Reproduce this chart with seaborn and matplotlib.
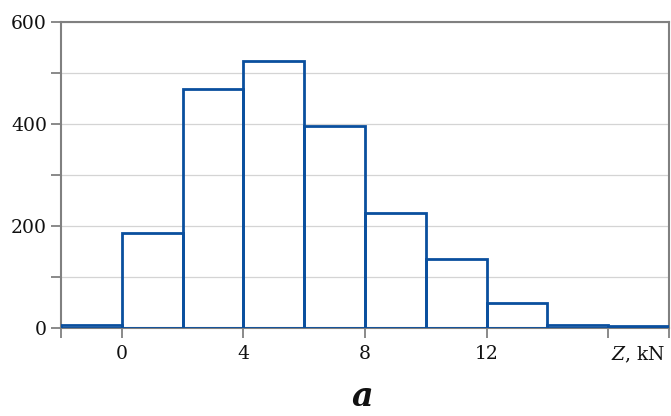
import numpy as np
import pandas as pd
import matplotlib
matplotlib.use("Agg")
import matplotlib.pyplot as plt
import matplotlib.transforms as mtransforms
import seaborn as sns

# Data
bin_edges = [-2, 0, 2, 4, 6, 8, 10, 12, 14, 16, 18]
counts = [5, 187, 469, 524, 396, 225, 136, 49, 6, 4]
y_ticks = [0, 100, 200, 300, 400, 500, 600]
y_tick_labels = ["0", "", "200", "", "400", "", "600"]
x_ticks = [-2, 0, 4, 8, 12, 16, 18]
x_tick_labels = ["", "0", "4", "8", "12", "", ""]

centers = [(a + b) / 2 for a, b in zip(bin_edges[:-1], bin_edges[1:])]
df = pd.DataFrame({"Z": centers, "n": counts})

sns.set_theme(style="white")
plt.rcParams["font.family"] = ["DejaVu Serif"]
plt.rcParams["mathtext.fontset"] = "dejavuserif"

fig = plt.figure(figsize=(6.71, 4.16), dpi=100)
ax = fig.add_axes([61 / 671, 1 - 328 / 416, (669 - 61) / 671, (328 - 22) / 416])

blue = "#0a4f9e"
grey = "#808080"

ax.set_axisbelow(True)
ax.grid(axis="y", color="#d4d4d4", linewidth=0.9)
ax.grid(axis="x", visible=False)

sns.histplot(data=df, x="Z", weights="n", bins=bin_edges, fill=False,
             element="bars", color=blue, linewidth=2.0, ax=ax, zorder=3)

ax.set_xlim(-2, 18)
ax.set_ylim(0, 600)
ax.set_yticks(y_ticks)
ax.set_yticklabels(y_tick_labels)
ax.set_xticks(x_ticks)
ax.set_xticklabels(x_tick_labels)
ax.set_xlabel("")
ax.set_ylabel("")

for s in ax.spines.values():
    s.set_color(grey)
    s.set_linewidth(1.5)

ax.tick_params(axis="both", which="major", direction="out", length=7,
               width=1.3, color=grey, labelsize=13.5, labelcolor="#111111",
               bottom=True, left=True)
ax.tick_params(axis="x", pad=5)
ax.tick_params(axis="y", pad=3)

tr = mtransforms.blended_transform_factory(ax.transData, ax.transAxes) + \
    mtransforms.ScaledTranslation(0, -12 / 72, fig.dpi_scale_trans)
ax.text(16.1, 0, r"$Z$, kN", transform=tr, ha="left", va="top",
        fontsize=13.5, color="#111111", clip_on=False)

fig.text(362 / 671, 1 - 397 / 416, "a", ha="center", va="center",
         fontsize=24, fontweight="bold", fontstyle="italic", color="#111111")

fig.savefig("out.png", dpi=100)
